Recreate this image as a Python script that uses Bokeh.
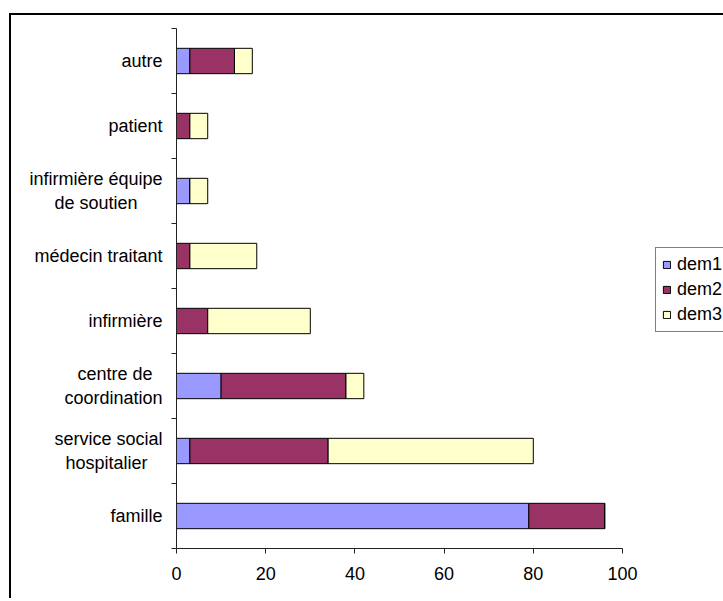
from bokeh.plotting import figure
from bokeh.models import (ColumnDataSource, FixedTicker, Range1d, Legend,
                          LegendItem)
from bokeh.embed import file_html
from bokeh.resources import INLINE

# ---- data (bottom to top) ----
categories = ["famille", "service social\nhospitalier", "centre de\ncoordination",
              "infirmière", "médecin traitant", "infirmière équipe\nde soutien",
              "patient", "autre"]
dem1 = [79, 3, 10, 0, 0, 3, 0, 3]
dem2 = [17, 31, 28, 7, 3, 0, 3, 10]
dem3 = [0, 46, 4, 23, 15, 4, 4, 4]
series = ["dem1", "dem2", "dem3"]
colors = ["#9999FF", "#993366", "#FFFFCC"]
x_ticks = [0, 20, 40, 60, 80, 100]

FONT = "Liberation Sans"
FS = "18px"

# Arial/Liberation Sans advance widths (per 1000 em), used to centre the
# lines of a multi-line category label (Bokeh right-aligns them).
WIDTHS = {" ": 278, "a": 556, "b": 556, "c": 500, "d": 556, "e": 556, "f": 278,
          "g": 556, "h": 556, "i": 222, "j": 222, "k": 500, "l": 222, "m": 833,
          "n": 556, "o": 556, "p": 556, "q": 556, "r": 333, "s": 500, "t": 278,
          "u": 556, "v": 500, "w": 722, "x": 500, "y": 500, "z": 500,
          "é": 556, "è": 556}


def em_width(s):
    return sum(WIDTHS.get(c, 556) for c in s)


def centred(label):
    lines = label.split("\n")
    if len(lines) == 1:
        return label
    wmax = max(em_width(l) for l in lines)
    out = []
    for l in lines:
        n = round((wmax - em_width(l)) / 2 / WIDTHS[" "])
        out.append(l + "\u00a0" * n)
    return "\n".join(out)


pos = [i + 0.5 for i in range(len(categories))]
source = ColumnDataSource(dict(pos=pos, dem1=dem1, dem2=dem2, dem3=dem3))

p = figure(frame_width=446, frame_height=520,
           min_border_left=165, min_border_right=100,
           min_border_top=13, min_border_bottom=50,
           x_range=Range1d(0, 100), y_range=Range1d(0, len(categories)),
           output_backend="svg", toolbar_location=None)
p.styles = {"margin-left": "9px", "margin-top": "13px",
            "border-left": "2px solid black", "border-top": "2px solid black"}

renderers = p.hbar_stack(series, y="pos", height=0.39, color=colors,
                         line_color="black", line_width=1, source=source)

legend = Legend(items=[LegendItem(label=s, renderers=[r]) for s, r in zip(series, renderers)],
                location=(33, 216), orientation="vertical",
                border_line_color="black", border_line_width=1,
                background_fill_color="white", background_fill_alpha=1,
                padding=6, spacing=4, margin=0, label_height=20,
                glyph_height=9, glyph_width=9, label_standoff=6,
                label_text_font=FONT, label_text_font_size="18px",
                label_text_color="black")
p.add_layout(legend, "right")

p.xgrid.visible = False
p.ygrid.visible = False
p.outline_line_color = None
p.background_fill_color = "white"
p.border_fill_color = "white"

xa = p.xaxis[0]
xa.ticker = FixedTicker(ticks=x_ticks)
xa.minor_tick_line_color = None
xa.major_tick_out = 5
xa.major_tick_in = 0
xa.major_label_standoff = 13
xa.major_label_text_font = FONT
xa.major_label_text_font_size = FS
xa.major_label_text_color = "black"
xa.axis_line_color = "#222222"
xa.major_tick_line_color = "#222222"

# y axis: category names at bar centres, tick marks at the boundaries
ya = p.yaxis[0]
ya.ticker = FixedTicker(ticks=pos, minor_ticks=list(range(len(categories) + 1)))
ya.major_label_overrides = {y: centred(c) for y, c in zip(pos, categories)}
ya.major_tick_out = 0
ya.major_tick_in = 0
ya.minor_tick_out = 5
ya.minor_tick_in = 0
ya.minor_tick_line_color = "#222222"
ya.major_label_standoff = 9
ya.major_label_text_font = FONT
ya.major_label_text_font_size = FS
ya.major_label_text_color = "black"
ya.axis_line_color = "#222222"

open("out.html", "w").write(file_html(p, INLINE))
